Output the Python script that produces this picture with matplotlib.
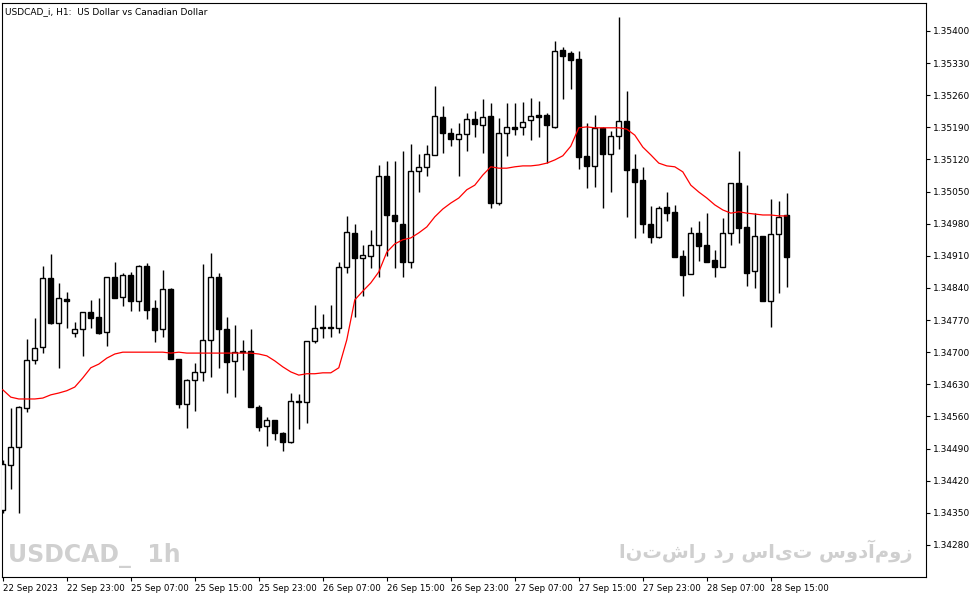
import matplotlib
matplotlib.use("Agg")
import matplotlib.pyplot as plt
import numpy as np

opens = [134356,134454,134494,134579,134683,134711,134862,134764,134816,134742,
         134751,134788,134777,134744,134864,134820,134868,134812,134888,134796,
         134751,134838,134685,134587,134640,134657,134727,134864,134751,134681,
         134700,134703,134581,134539,134552,134524,134504,134594,134592,134725,
         134753,134753,134753,134886,134960,134905,134910,134934,135084,134999,
         134979,134897,135095,135104,135130,135213,135178,135165,135176,135208,
         135195,135215,135025,135178,135191,135191,135206,135217,135217,135191,
         135359,135352,135339,135128,135106,135189,135132,135171,135204,135099,
         135075,134979,134951,135017,135006,134910,134871,134960,134934,134901,
         134886,134960,135069,134973,134877,134953,134812,134958,134999]
highs = [134465,134579,134583,134729,134775,134888,134914,134851,134831,134766,
         134788,134814,134818,134864,134897,134873,134875,134890,134894,134814,
         134879,134840,134685,134642,134677,134892,134916,134873,134777,134759,
         134727,134751,134585,134559,134552,134526,134611,134609,134725,134803,
         134783,134803,134897,134997,134979,134934,134966,135108,135117,135117,
         135139,135154,135132,135152,135280,135237,135189,135200,135221,135226,
         135252,135243,135210,135243,135243,135245,135254,135247,135221,135378,
         135365,135356,135356,135200,135217,135191,135182,135431,135269,135132,
         135104,135019,135019,135049,135021,134923,134973,134986,135003,134923,
         134993,135069,135139,135064,135003,134953,135034,135030,135047]
lows = [134350,134402,134350,134570,134674,134698,134762,134666,134753,134733,
        134692,134753,134740,134714,134818,134801,134790,134790,134772,134722,
        134733,134685,134579,134535,134572,134637,134646,134666,134611,134602,
        134661,134581,134528,134496,134509,134485,134502,134533,134546,134720,
        134731,134733,134742,134873,134777,134823,134884,134864,134910,134884,
        134864,134884,135049,135084,135130,135134,135149,135084,135139,135169,
        135134,135014,135021,135128,135173,135173,135162,135169,135112,135189,
        135252,135274,135099,135058,135060,135014,135049,135143,134995,134949,
        134960,134938,134949,134986,134908,134823,134871,134899,134897,134864,
        134886,134934,134938,134844,134840,134812,134755,134829,134842]
closes = [134457,134494,134581,134683,134709,134862,134764,134818,134812,134751,
          134788,134775,134742,134864,134818,134868,134812,134888,134792,134748,
          134838,134685,134587,134640,134657,134727,134864,134751,134679,134700,
          134703,134581,134537,134552,134524,134504,134594,134592,134725,134753,
          134755,134754,134886,134962,134905,134912,134934,135084,134999,134986,
          134897,135095,135104,135132,135215,135178,135165,135176,135208,135197,
          135213,135025,135178,135191,135186,135202,135215,135213,135195,135356,
          135346,135337,135125,135106,135189,135132,135171,135204,135097,135071,
          134979,134951,135014,135003,134908,134868,134960,134932,134897,134886,
          134960,135069,134971,134873,134953,134812,134958,134995,134908]
ma = [134618,134602,134598,134598,134598,134600,134607,134611,134616,134624,
      134644,134666,134674,134687,134696,134700,134700,134700,134700,134700,
      134700,134698,134700,134698,134698,134698,134698,134698,134698,134698,
      134698,134698,134696,134692,134681,134668,134657,134650,134653,134653,
      134655,134655,134666,134727,134814,134833,134851,134875,134918,134936,
      134945,134949,134960,134973,134995,135012,135025,135036,135054,135064,
      135086,135104,135101,135101,135104,135106,135106,135108,135112,135119,
      135128,135149,135189,135191,135189,135189,135189,135189,135186,135173,
      135147,135130,135112,135106,135104,135093,135064,135049,135036,135021,
      135010,135003,135006,135003,135001,134999,134999,134997,134997]
x_labels = ["22 Sep 2023", "22 Sep 23:00", "25 Sep 07:00", "25 Sep 15:00", "25 Sep 23:00",
            "26 Sep 07:00", "26 Sep 15:00", "26 Sep 23:00", "27 Sep 07:00", "27 Sep 15:00",
            "27 Sep 23:00", "28 Sep 07:00", "28 Sep 15:00"]
y_ticks = [1.34280, 1.34350, 1.34420, 1.34490, 1.34560, 1.34630, 1.34700, 1.34770,
           1.34840, 1.34910, 1.34980, 1.35050, 1.35120, 1.35190, 1.35260, 1.35330, 1.35400]

o = np.array(opens) / 1e5
h = np.array(highs) / 1e5
l = np.array(lows) / 1e5
c = np.array(closes) / 1e5
m = np.array(ma) / 1e5
x = np.arange(len(o))

fig = plt.figure(figsize=(9.79, 5.97), dpi=100)
ax = fig.add_axes([2/979, 20/597, 924/979, 574/597])
ax.vlines(x, l, h, color="black", linewidth=1, zorder=2)
up = c >= o
bot = np.minimum(o, c)
hgt = np.maximum(np.abs(c - o), 0.000015)
ax.bar(x[up], hgt[up], bottom=bot[up], width=0.6, facecolor="white", edgecolor="black", linewidth=1, zorder=3)
ax.bar(x[~up], hgt[~up], bottom=bot[~up], width=0.6, facecolor="black", edgecolor="black", linewidth=1, zorder=3)
ax.plot(x, m, color="red", linewidth=0.9, zorder=4)

ax.set_xlim(-0.1, 115.4)
ax.set_ylim(1.34210, 1.35461)
ax.yaxis.tick_right()
ax.set_yticks(y_ticks)
ax.set_yticklabels([f"{v:.5f}" for v in y_ticks], fontsize=6.5)
ax.set_xticks(np.arange(0, 8 * len(x_labels), 8))
ax.set_xticklabels(x_labels, fontsize=6.2, ha="left")
ax.tick_params(axis="both", length=3, width=0.8, pad=2)
for s in ax.spines.values():
    s.set_linewidth(0.8)

ax.text(0.003, 0.992, "USDCAD_i, H1:  US Dollar vs Canadian Dollar", transform=ax.transAxes,
        fontsize=6.5, va="top", ha="left")
ax.text(0.006, 0.015, "USDCAD_  1h", transform=ax.transAxes, fontsize=17, fontweight="bold",
        color="#d0d0d0", va="bottom", ha="left", family=["Liberation Sans Narrow", "DejaVu Sans"])
ax.text(0.985, 0.025, "انتشار در سایت سودآموز", transform=ax.transAxes, fontsize=14,
        fontweight="bold", color="#cfcfcf", va="bottom", ha="right", family=["DejaVu Sans"])

fig.savefig("out.png", dpi=100)
